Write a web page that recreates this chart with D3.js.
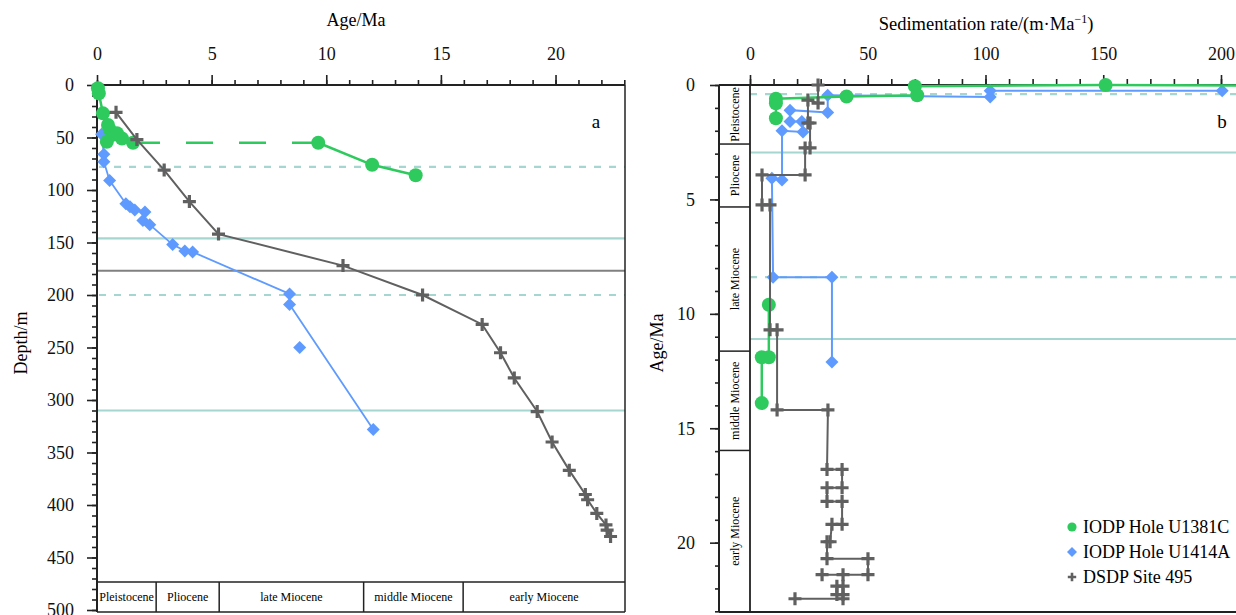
<!DOCTYPE html>
<html><head><meta charset="utf-8">
<script src="https://cdn.jsdelivr.net/npm/d3@7"></script>
<style>body{margin:0;background:#fff}svg{display:block;font-family:"Liberation Serif","Times New Roman",serif}</style>
</head><body><svg id="c" width="1236" height="615"></svg>
<script>
// ---------- DATA ----------
const stageNames = ["Pleistocene","Pliocene","late Miocene","middle Miocene","early Miocene"];
const stageBounds = [0, 2.58, 5.33, 11.63, 15.97, 23.03];

const ageMajorTicks = [0,5,10,15,20];
const ageMinorTicks = d3.range(0,24,1);
const depthMajorTicks = d3.range(0,501,50);
const depthMinorTicks = d3.range(0,501,10);
const rateMajorTicks = [0,50,100,150,200];
const rateMinorTicks = d3.range(0,201,10);

// Panel a: [age Ma, depth m]
const u1381cShallow = [[0.04,3],[0.08,8],[0.26,27],[0.48,38],[0.57,43],[0.87,46],[0.43,54],[1.09,51],[1.57,55]];
const u1381cDeep = [[9.65,55],[12.0,76],[13.9,86]];
const u1414aLine = [[0.2,47],[0.3,66],[0.3,73],[0.55,91],[1.26,113],[1.44,116],[1.65,119],[2.09,121],[2.0,129],[2.3,133],[3.3,152],[3.83,158],[4.17,159],[8.4,199],[8.4,209],[12.05,328]];
const u1414aExtra = [[8.84,250]];
const dsdp495A = [[0.83,26],[1.74,52],[2.93,81],[4.03,111],[5.3,142],[10.73,172],[14.2,200],[16.8,228],[17.6,255],[18.2,279],[19.2,311],[19.85,340],[20.6,367],[21.3,390],[21.4,395],[21.8,408],[22.2,419],[22.25,424],[22.4,430]];
const depthDashedTeal = [78,200];
const depthSolidTeal = [146,310];
const depthSolidGray = [177];

// Panel b: [rate m/Ma, age Ma]
const u1381cBYoung = [[215,0.02],[151,0.0],[70,0.05],[71,0.45],[41,0.5],[11,0.6],[11,0.8],[11,1.45]];
const u1381cBOld = [[8,9.6],[8,11.9],[5,11.9],[5,13.9]];
const u1414aB = [[200.5,0.25],[102,0.25],[102,0.52],[33,0.45],[33,1.2],[17,1.1],[17,1.6],[22,1.6],[22.5,2.05],[13.6,2.0],[13.6,4.15],[9.3,4.07],[9.8,8.4],[34.8,8.4],[34.8,12.1]];
const dsdp495B = [[28.9,0],[28.9,0.79],[24.6,0.66],[24.6,1.66],[25.5,1.66],[25.5,2.75],[23.4,2.75],[23.4,3.93],[5.1,3.93],[5.1,5.24],[8.5,5.24],[8.5,10.7],[11.5,10.7],[11.5,14.2],[33.1,14.2],[32.7,16.8],[39.1,16.8],[39.1,17.6],[32.7,17.6],[32.7,18.2],[39.1,18.2],[39.1,19.2],[34.8,19.2],[34,19.96],[32.7,19.96],[32.7,20.7],[50.1,20.7],[50.1,21.4],[30.6,21.4],[39.5,21.4],[39.5,21.9],[36.9,21.9],[36.9,22.27],[39.5,22.27],[39.5,22.45],[19.1,22.45]];
const ageDashedTeal = [0.4,8.4];
const ageSolidTeal = [2.95,11.1];

const legendLabels = ["IODP Hole U1381C","IODP Hole U1414A","DSDP Site 495"];

// ---------- STYLE ----------
const GREEN="#2fca5e", BLUE="#5f9bff", GRAY="#606060", TEAL="#a6d6d0", HGRAY="#808080";
const FS=18;

const svg = d3.select("#c");

// ---------- PANEL A ----------
const xA = d3.scaleLinear([0,23.03],[97,625]);
const yA = d3.scaleLinear([0,500],[85,610]);
const gA = svg.append("g");

depthDashedTeal.forEach(d=>gA.append("line").attr("x1",99).attr("x2",625).attr("y1",yA(d)).attr("y2",yA(d)).attr("stroke",TEAL).attr("stroke-width",2.2).attr("stroke-dasharray","7,8"));
depthSolidTeal.forEach(d=>gA.append("line").attr("x1",97).attr("x2",625).attr("y1",yA(d)).attr("y2",yA(d)).attr("stroke",TEAL).attr("stroke-width",2.2));
depthSolidGray.forEach(d=>gA.append("line").attr("x1",97).attr("x2",625).attr("y1",yA(d)).attr("y2",yA(d)).attr("stroke",HGRAY).attr("stroke-width",2));

const sTop=582, sBot=612;
gA.append("line").attr("x1",97).attr("x2",625).attr("y1",sTop).attr("y2",sTop).attr("stroke","#222").attr("stroke-width",1.5);
gA.append("line").attr("x1",97).attr("x2",625).attr("y1",sBot).attr("y2",sBot).attr("stroke","#222").attr("stroke-width",1.5);
stageBounds.slice(1,-1).forEach(b=>gA.append("line").attr("x1",xA(b)).attr("x2",xA(b)).attr("y1",sTop).attr("y2",sBot).attr("stroke","#222").attr("stroke-width",1.5));
stageNames.forEach((n,i)=>gA.append("text").attr("x",(xA(stageBounds[i])+xA(stageBounds[i+1]))/2).attr("y",(sTop+sBot)/2+4).attr("text-anchor","middle").attr("font-size",12).text(n));

function styleAxis(g){g.selectAll("path").remove();g.selectAll("line").attr("stroke","#222").attr("stroke-width",1.6);g.selectAll("text").attr("font-size",FS).attr("font-family","Liberation Serif").attr("fill","#111");}
gA.append("g").attr("transform","translate(0,85)").call(d3.axisTop(xA).tickValues(ageMinorTicks).tickSize(5).tickFormat("")).call(styleAxis);
gA.append("g").attr("transform","translate(0,85)").call(d3.axisTop(xA).tickValues(ageMajorTicks).tickSize(10).tickPadding(15)).call(styleAxis);
gA.append("g").attr("transform","translate(97,0)").call(d3.axisLeft(yA).tickValues(depthMinorTicks).tickSize(5).tickFormat("")).call(styleAxis);
gA.append("g").attr("transform","translate(97,0)").call(d3.axisLeft(yA).tickValues(depthMajorTicks).tickSize(10).tickPadding(13)).call(styleAxis);
gA.append("line").attr("x1",97).attr("x2",625).attr("y1",85).attr("y2",85).attr("stroke","#222").attr("stroke-width",2);
gA.append("line").attr("x1",97).attr("x2",97).attr("y1",85).attr("y2",612).attr("stroke","#222").attr("stroke-width",2);
gA.append("line").attr("x1",625).attr("x2",625).attr("y1",85).attr("y2",612).attr("stroke","#222").attr("stroke-width",1.5);

gA.append("text").attr("x",356).attr("y",26).attr("text-anchor","middle").attr("font-size",FS).text("Age/Ma");
gA.append("text").attr("transform","translate(27,343) rotate(-90)").attr("text-anchor","middle").attr("font-size",FS).text("Depth/m");
gA.append("text").attr("x",596).attr("y",128).attr("text-anchor","middle").attr("font-size",19).text("a");

function circles(g,data,fx,fy,r){g.selectAll(null).data(data).join("circle").attr("cx",d=>fx(d[0])).attr("cy",d=>fy(d[1])).attr("r",r).attr("fill",GREEN);}
function diamonds(g,data,fx,fy,h){g.selectAll(null).data(data).join("path").attr("d",`M0,${-h}L${h},0L0,${h}L${-h},0Z`).attr("transform",d=>`translate(${fx(d[0])},${fy(d[1])})`).attr("fill",BLUE);}
function crosses(g,data,fx,fy,h,w){g.selectAll(null).data(data).join("path").attr("d",`M${-h},0H${h}M0,${-h}V${h}`).attr("transform",d=>`translate(${fx(d[0])},${fy(d[1])})`).attr("stroke",GRAY).attr("stroke-width",w).attr("fill","none");}

const lineA = d3.line().x(d=>xA(d[0])).y(d=>yA(d[1]));
gA.append("path").attr("d",lineA(u1414aLine)).attr("fill","none").attr("stroke",BLUE).attr("stroke-width",1.8);
diamonds(gA.append("g"),u1414aLine.concat(u1414aExtra),xA,yA,6.5);
gA.append("path").attr("d",lineA(u1381cShallow)).attr("fill","none").attr("stroke",GREEN).attr("stroke-width",2.5);
gA.append("path").attr("d",lineA([u1381cShallow[u1381cShallow.length-1],u1381cDeep[0]])).attr("fill","none").attr("stroke",GREEN).attr("stroke-width",2.5).attr("stroke-dasharray","27,26");
gA.append("path").attr("d",lineA(u1381cDeep)).attr("fill","none").attr("stroke",GREEN).attr("stroke-width",2.5);
circles(gA.append("g"),u1381cShallow.concat(u1381cDeep),xA,yA,7);
gA.append("path").attr("d",lineA(dsdp495A)).attr("fill","none").attr("stroke",GRAY).attr("stroke-width",2);
crosses(gA.append("g"),dsdp495A,xA,yA,6.5,3.2);

// ---------- PANEL B ----------
const xB = d3.scaleLinear([0,200],[750,1221]);
const yB = d3.scaleLinear([0,23.03],[85,612]);
const gB = svg.append("g");
svg.append("defs").append("clipPath").attr("id","clipB").append("rect").attr("x",700).attr("y",60).attr("width",536).attr("height",555);

ageDashedTeal.forEach(d=>gB.append("line").attr("x1",750).attr("x2",1236).attr("y1",yB(d)).attr("y2",yB(d)).attr("stroke",TEAL).attr("stroke-width",2.2).attr("stroke-dasharray","7,8"));
ageSolidTeal.forEach(d=>gB.append("line").attr("x1",750).attr("x2",1236).attr("y1",yB(d)).attr("y2",yB(d)).attr("stroke",TEAL).attr("stroke-width",2.2));

const cL=719, cR=750;
stageBounds.slice(1,-1).forEach(b=>gB.append("line").attr("x1",cL).attr("x2",cR).attr("y1",yB(b)).attr("y2",yB(b)).attr("stroke","#222").attr("stroke-width",1.5));
stageNames.forEach((n,i)=>{const cy=(yB(stageBounds[i])+yB(stageBounds[i+1]))/2;
  gB.append("text").attr("transform",`translate(${(cL+cR)/2+4},${cy}) rotate(-90)`).attr("text-anchor","middle").attr("font-size",12).text(n);});

gB.append("g").attr("transform","translate(0,85)").call(d3.axisTop(xB).tickValues(rateMinorTicks).tickSize(6).tickFormat("")).call(styleAxis);
gB.append("g").attr("transform","translate(0,85)").call(d3.axisTop(xB).tickValues(rateMajorTicks).tickSize(10).tickPadding(15)).call(styleAxis);
gB.append("g").attr("transform",`translate(${cL},0)`).call(d3.axisLeft(yB).tickValues(ageMinorTicks).tickSize(4).tickFormat("")).call(styleAxis);
gB.append("g").attr("transform",`translate(${cL},0)`).call(d3.axisLeft(yB).tickValues(ageMajorTicks).tickSize(9).tickPadding(15)).call(styleAxis);
gB.append("line").attr("x1",cL).attr("x2",1236).attr("y1",85).attr("y2",85).attr("stroke","#222").attr("stroke-width",2);
gB.append("line").attr("x1",cL).attr("x2",cL).attr("y1",85).attr("y2",612).attr("stroke","#222").attr("stroke-width",2);
gB.append("line").attr("x1",cR).attr("x2",cR).attr("y1",85).attr("y2",612).attr("stroke","#222").attr("stroke-width",1.8);
gB.append("line").attr("x1",cL).attr("x2",1236).attr("y1",612).attr("y2",612).attr("stroke","#222").attr("stroke-width",1.8);

const tB = gB.append("text").attr("x",986).attr("y",30).attr("text-anchor","middle").attr("font-size",18.5);
tB.append("tspan").text("Sedimentation rate/(m·Ma");
tB.append("tspan").attr("font-size",12).attr("dy",-7).text("−1");
tB.append("tspan").attr("dy",7).text(")");
gB.append("text").attr("transform","translate(663,343) rotate(-90)").attr("text-anchor","middle").attr("font-size",FS).text("Age/Ma");
gB.append("text").attr("x",1222).attr("y",128).attr("text-anchor","middle").attr("font-size",19).text("b");

const sB = gB.append("g").attr("clip-path","url(#clipB)");
const lineB = d3.line().x(d=>xB(d[0])).y(d=>yB(d[1]));
sB.append("path").attr("d",lineB(u1414aB)).attr("fill","none").attr("stroke",BLUE).attr("stroke-width",2);
diamonds(sB.append("g"),u1414aB,xB,yB,6.5);
[u1381cBYoung,u1381cBOld].forEach(s=>sB.append("path").attr("d",lineB(s)).attr("fill","none").attr("stroke",GREEN).attr("stroke-width",2.5));
circles(sB.append("g"),u1381cBYoung.concat(u1381cBOld),xB,yB,7);
sB.append("path").attr("d",lineB(dsdp495B)).attr("fill","none").attr("stroke",GRAY).attr("stroke-width",2);
crosses(sB.append("g"),dsdp495B,xB,yB,6.5,3.2);

// legend
const lg = svg.append("g");
const lx=1072, ly0=527, ldy=25;
legendLabels.forEach((t,i)=>lg.append("text").attr("x",1083).attr("y",ly0+i*ldy+6).attr("font-size",FS).text(t));
circles(lg.append("g"),[[0,0]],()=>lx,()=>ly0,4.6);
diamonds(lg.append("g"),[[0,0]],()=>lx,()=>ly0+ldy,5);
crosses(lg.append("g"),[[0,0]],()=>lx,()=>ly0+2*ldy,4.2,2.6);
</script></body></html>
